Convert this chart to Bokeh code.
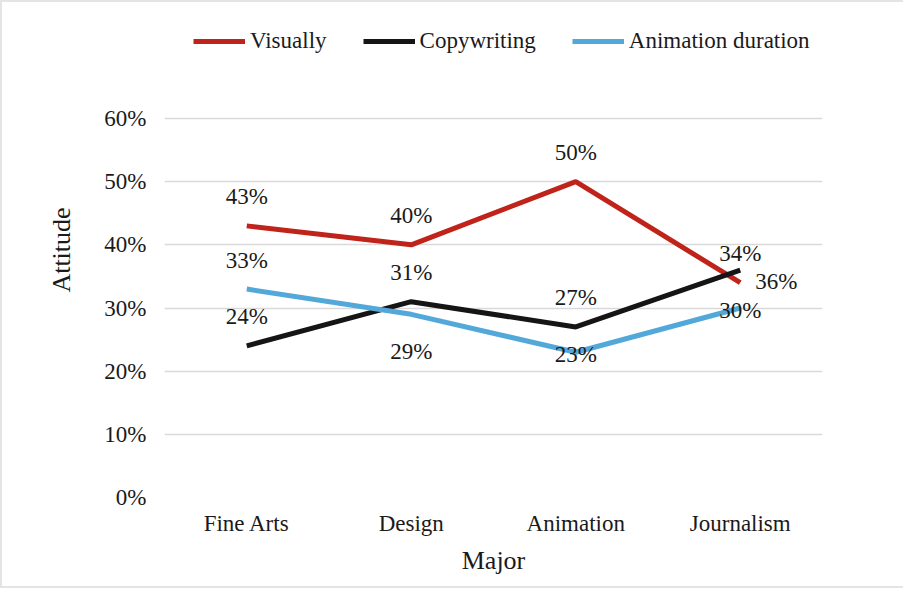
from bokeh.plotting import figure
from bokeh.models import (ColumnDataSource, Legend, LegendItem, FactorRange,
                          Range1d, PrintfTickFormatter, FixedTicker)
from bokeh.core.properties import value
from bokeh.embed import file_html
from bokeh.resources import INLINE

majors = ["Fine Arts", "Design", "Animation", "Journalism"]
visually = [43, 40, 50, 34]
copywriting = [24, 31, 27, 36]
anim_duration = [33, 29, 23, 30]
y_ticks = [0, 10, 20, 30, 40, 50, 60]

# label placement per point (style); offsets in screen px, y positive = down
vis_place = ["above", "above", "above", "above"]
copy_place = ["above", "above", "above", "right"]
anim_place = ["above", "below", "center", "center"]
OFF = {"above": (0, -29), "below": (0, 37), "center": (0, 2), "right": (36, 11)}

FONT = "Liberation Serif"
TXT = "#1a1a1a"
FS = "23px"

# frame spans the full canvas height above the axis; the extra headroom holds the legend
Y_TOP = 60 * 495 / 379

p = figure(x_range=FactorRange(*majors), y_range=Range1d(0, Y_TOP),
           width=903, height=588, output_backend="svg", toolbar_location=None,
           min_border_left=162, min_border_right=83, min_border_top=0, min_border_bottom=93)
p.styles = {"border-left": "2px solid #e4e4e4", "border-top": "2px solid #e4e4e4",
            "border-bottom": "2px solid #e4e4e4"}
p.outline_line_color = None
p.background_fill_color = "white"
p.border_fill_color = "white"

series = [("Visually", visually, "#c0231a", vis_place),
          ("Copywriting", copywriting, "#151515", copy_place),
          ("Animation duration", anim_duration, "#52a8d9", anim_place)]

items = []
for name, vals, color, place in series:
    src = ColumnDataSource(dict(
        x=majors, y=vals, t=[f"{v}%" for v in vals],
        xo=[OFF[k][0] for k in place], yo=[OFF[k][1] for k in place]))
    r = p.line("x", "y", source=src, line_color=color, line_width=5)
    items.append(LegendItem(label=name, renderers=[r]))
    p.text(x="x", y="y", text="t", source=src, x_offset="xo", y_offset="yo",
           text_align="center", text_baseline="middle",
           text_font=value(FONT), text_font_size=FS, text_color=TXT)

legend = Legend(items=items, orientation="horizontal", location=(29, 443),
                glyph_width=52, glyph_height=20, label_text_font="Times New Roman",
                label_text_font_size=FS, label_text_color=TXT, spacing=36,
                label_standoff=5, border_line_color=None, background_fill_alpha=0,
                padding=0, margin=0)
p.add_layout(legend)

p.yaxis.ticker = FixedTicker(ticks=y_ticks)
p.yaxis.formatter = PrintfTickFormatter(format="%d%%")
p.ygrid.ticker = FixedTicker(ticks=y_ticks)
p.ygrid.grid_line_color = "#d9d9d9"
p.ygrid.grid_line_width = 1.5
p.xgrid.grid_line_color = None

for ax in (p.xaxis, p.yaxis):
    ax.axis_line_color = None
    ax.major_tick_line_color = None
    ax.minor_tick_line_color = None
    ax.major_tick_out = 0
    ax.minor_tick_out = 0
    ax.major_label_text_font = FONT
    ax.major_label_text_font_size = FS
    ax.major_label_text_color = TXT
    ax.axis_label_text_font = FONT
    ax.axis_label_text_font_size = "26px"
    ax.axis_label_text_font_style = "normal"
    ax.axis_label_text_color = TXT

p.xaxis.axis_label = "Major"
p.yaxis.axis_label = "Attitude"
p.xaxis.major_label_standoff = 13
p.yaxis.major_label_standoff = 18
p.xaxis.axis_label_standoff = 7
p.yaxis.axis_label_standoff = 25

open("out.html", "w").write(file_html(p, INLINE))
